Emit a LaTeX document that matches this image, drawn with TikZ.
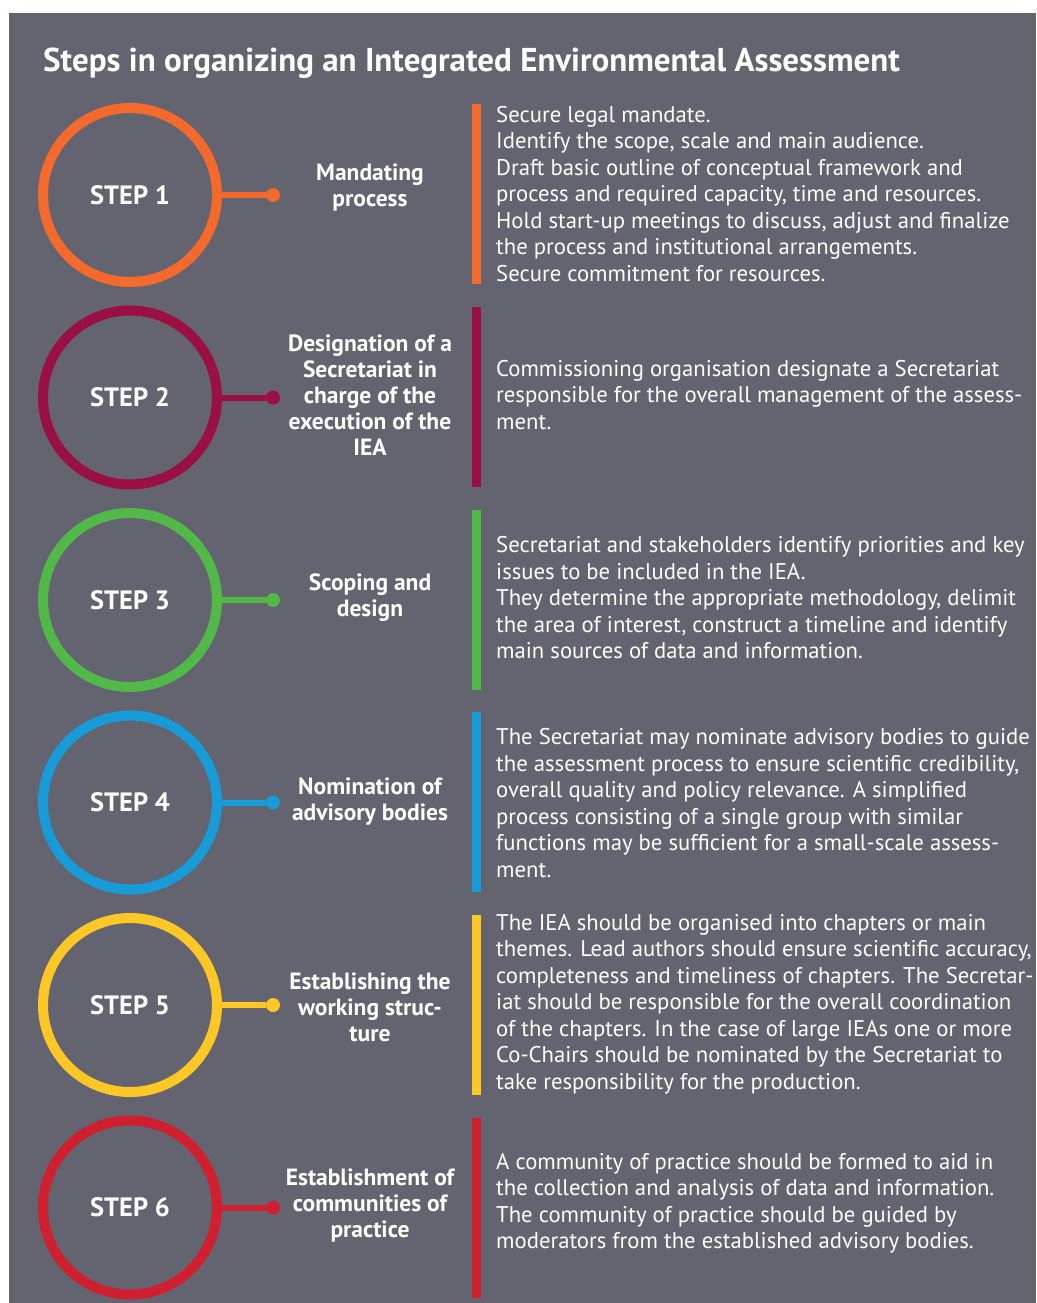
\documentclass[tikz,border=0pt]{standalone}
\usepackage{fontspec}
\setmainfont{PT Sans}
\usepackage{tikz}
\usetikzlibrary{backgrounds}

\definecolor{slate}{RGB}{100,99,112}
\definecolor{cone}{RGB}{243,106,44}
\definecolor{ctwo}{RGB}{155,16,66}
\definecolor{cthree}{RGB}{82,184,72}
\definecolor{cfour}{RGB}{23,155,217}
\definecolor{cfive}{RGB}{253,199,38}
\definecolor{csix}{RGB}{208,32,47}

\begin{document}
\begin{tikzpicture}[x=1pt, y=-1pt]
\useasboundingbox (0,0) rectangle (1036,1303);
\fill[slate] (9,13) rectangle (1036,1303);

\node[anchor=base west, text=white, inner sep=0, font=\fontsize{33}{36}\selectfont\bfseries] (title) at (43,72)
  {Steps in organizing an Integrated Environmental Assessment};

% circles
\begin{scope}[every node/.style={circle, line width=10pt, minimum size=174pt, text=white,
              font=\fontsize{26.5}{30}\selectfont\bfseries}]
  \node[draw=cone] (S1) at (130,195) {STEP 1};
  \node[draw=ctwo] (S2) at (130,397.5) {STEP 2};
  \node[draw=cthree] (S3) at (130,600) {STEP 3};
  \node[draw=cfour] (S4) at (130,802.5) {STEP 4};
  \node[draw=cfive] (S5) at (130,1005) {STEP 5};
  \node[draw=csix] (S6) at (130,1207.5) {STEP 6};
\end{scope}

% end dots
\begin{scope}[every node/.style={circle, inner sep=0, minimum size=14pt}]
  \node[fill=cone] (D1) at (273,195) {};
  \node[fill=ctwo] (D2) at (273,397.5) {};
  \node[fill=cthree] (D3) at (273,600) {};
  \node[fill=cfour] (D4) at (273,802.5) {};
  \node[fill=cfive] (D5) at (273,1005) {};
  \node[fill=csix] (D6) at (273,1207.5) {};
\end{scope}

\begin{scope}[every edge/.style={draw, line width=6pt}]
  \path (S1) edge[cone] (D1);
  \path (S2) edge[ctwo] (D2);
  \path (S3) edge[cthree] (D3);
  \path (S4) edge[cfour] (D4);
  \path (S5) edge[cfive] (D5);
  \path (S6) edge[csix] (D6);
\end{scope}

% step names
\begin{scope}[every node/.style={align=center, text=white, inner sep=0,
              font=\fontsize{23.5}{26}\selectfont\bfseries}]
  \node (L1) at (370,187) {Mandating\\process};
  \node (L2) at (370,395) {Designation of a\\Secretariat in\\charge of the\\execution of the\\IEA};
  \node (L3) at (370,598) {Scoping and\\design};
  \node (L4) at (370,802) {Nomination of\\advisory bodies};
  \node (L5) at (370,1007) {Establishing the\\working struc-\\ture};
  \node (L6) at (370,1205) {Establishment of\\communities of\\practice};
\end{scope}

% bars
\begin{scope}[every node/.style={rectangle, inner sep=0, minimum width=9pt, minimum height=180pt}]
  \node[fill=cone] (B1) at (476.5,194) {};
  \node[fill=ctwo] (B2) at (476.5,397) {};
  \node[fill=cthree] (B3) at (476.5,600) {};
  \node[fill=cfour] (B4) at (476.5,802) {};
  \node[fill=cfive] (B5) at (476.5,1005) {};
  \node[fill=csix] (B6) at (476.5,1207.5) {};
\end{scope}

% descriptions
\begin{scope}[every node/.style={anchor=west, align=left, text=white, inner sep=0,
              font=\fontsize{22.7}{26.5}\selectfont}]
  \node (T1) at (496,194) {Secure legal mandate.\\Identify the scope, scale and main audience.\\Draft basic outline of conceptual framework and\\process and required capacity, time and resources.\\Hold start-up meetings to discuss, adjust and finalize\\the process and institutional arrangements.\\Secure commitment for resources.};
  \node (T2) at (496,395) {Commissioning organisation designate a Secretariat\\responsible for the overall management of the assess-\\ment.};
  \node (T3) at (496,598) {Secretariat and stakeholders identify priorities and key\\issues to be included in the IEA.\\They determine the appropriate methodology, delimit\\the area of interest, construct a timeline and identify\\main sources of data and information.};
  \node (T4) at (496,803) {The Secretariat may nominate advisory bodies to guide\\the assessment process to ensure scientific credibility,\\overall quality and policy relevance. A simplified\\process consisting of a single group with similar\\functions may be sufficient for a small-scale assess-\\ment.};
  \node (T5) at (496,1004) {The IEA should be organised into chapters or main\\themes. Lead authors should ensure scientific accuracy,\\completeness and timeliness of chapters. The Secretar-\\iat should be responsible for the overall coordination\\of the chapters. In the case of large IEAs one or more\\Co-Chairs should be nominated by the Secretariat to\\take responsibility for the production.};
  \node (T6) at (496,1203) {A community of practice should be formed to aid in\\the collection and analysis of data and information.\\The community of practice should be guided by\\moderators from the established advisory bodies.};
\end{scope}

\end{tikzpicture}
\end{document}
